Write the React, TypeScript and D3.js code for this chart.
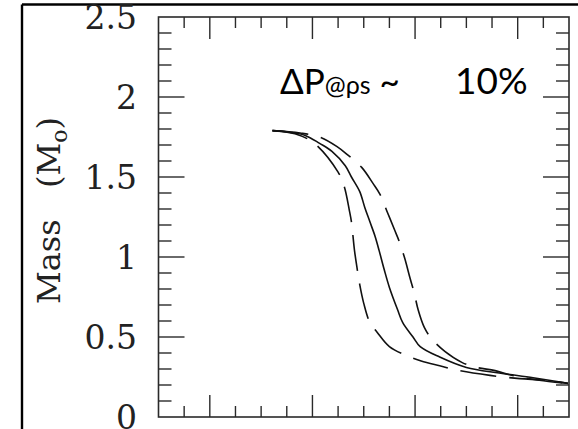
import React from "react";
import * as d3 from "d3";

// Enclosed mass profiles for three pressure perturbations
const leftX = [0.61, 0.83, 1.02, 1.25, 1.31, 1.36, 1.38, 1.41, 1.44, 1.46, 1.5, 1.56, 1.63, 1.75, 1.93, 2.06, 2.24, 2.43, 2.73, 3.02, 3.26, 3.49];
const leftY = [1.79, 1.77, 1.71, 1.53, 1.44, 1.29, 1.22, 1.04, 0.91, 0.83, 0.71, 0.59, 0.53, 0.44, 0.38, 0.35, 0.32, 0.29, 0.26, 0.24, 0.23, 0.21];

const midX = [0.61, 0.78, 0.93, 1.07, 1.19, 1.32, 1.38, 1.46, 1.51, 1.56, 1.61, 1.65, 1.7, 1.75, 1.83, 1.88, 1.98, 2.05, 2.24, 2.5, 2.82, 3.15, 3.49];
const midY = [1.79, 1.78, 1.76, 1.71, 1.66, 1.57, 1.5, 1.41, 1.31, 1.22, 1.13, 1.04, 0.92, 0.81, 0.67, 0.59, 0.5, 0.44, 0.375, 0.31, 0.275, 0.245, 0.21];

const rightX = [0.61, 0.88, 1.07, 1.24, 1.34, 1.48, 1.59, 1.66, 1.73, 1.8, 1.85, 1.9, 1.95, 1.99, 2.03, 2.09, 2.16, 2.29, 2.46, 2.6, 2.78, 2.95, 3.21, 3.49];
const rightY = [1.79, 1.775, 1.75, 1.69, 1.64, 1.56, 1.46, 1.39, 1.28, 1.17, 1.09, 0.99, 0.87, 0.78, 0.67, 0.56, 0.49, 0.41, 0.34, 0.31, 0.29, 0.26, 0.23, 0.21];

const yTickLabels = ["0", "0.5", "1", "1.5", "2", "2.5"];
const yTickValues = [0, 0.5, 1, 1.5, 2, 2.5];

const W = 578;
const H = 429;
const plot = { left: 158.5, right: 569, top: 17, bottom: 417 };

export default function App() {
  const x = d3.scaleLinear().domain([-0.5, 3.5]).range([plot.left, plot.right]);
  const y = d3.scaleLinear().domain([0, 2.5]).range([plot.bottom, plot.top]);

  const line = d3
    .line<[number, number]>()
    .x((d) => x(d[0]))
    .y((d) => y(d[1]))
    .curve(d3.curveCatmullRom.alpha(0.5));

  const series = [
    { xs: leftX, ys: leftY, dash: "36,13" },
    { xs: midX, ys: midY, dash: null },
    { xs: rightX, ys: rightY, dash: "36,13" },
  ];

  const xTicks = d3.range(-0.25, 3.5, 0.25).map((v) => +v.toFixed(2));
  const yTicks = d3.range(1, 25).map((i) => +(i * 0.1).toFixed(1));
  const isMajorX = (v: number) => Math.abs(v - Math.round(v)) < 1e-6;
  const isMajorY = (v: number) => Math.abs(v * 2 - Math.round(v * 2)) < 1e-6;
  const axisColor = "#2a2a2a";

  return (
    <svg
      width={W}
      height={H}
      style={{ position: "absolute", left: 0, top: 0, display: "block", background: "#fff" }}
    >
      <rect x={0} y={0} width={W} height={H} fill="#fff" />
      {/* outer frame */}
      <line x1={22} y1={4.5} x2={W + 2} y2={4.5} stroke="#000" strokeWidth={2.4} />
      <line x1={22} y1={4.5} x2={22} y2={H + 2} stroke="#000" strokeWidth={2.4} />

      {/* ticks */}
      <g stroke={axisColor} strokeWidth={1.4}>
        {xTicks.map((v) => {
          const len = isMajorX(v) ? 22 : 11;
          return (
            <g key={"x" + v}>
              <line x1={x(v)} x2={x(v)} y1={plot.bottom} y2={plot.bottom - len} />
              <line x1={x(v)} x2={x(v)} y1={plot.top} y2={plot.top + len} />
            </g>
          );
        })}
        {yTicks.map((v) => {
          const len = isMajorY(v) ? 26 : 13;
          return (
            <g key={"y" + v}>
              <line x1={plot.left} x2={plot.left + len} y1={y(v)} y2={y(v)} />
              <line x1={plot.right} x2={plot.right - len} y1={y(v)} y2={y(v)} />
            </g>
          );
        })}
      </g>
      <rect
        x={plot.left}
        y={plot.top}
        width={plot.right - plot.left}
        height={plot.bottom - plot.top}
        fill="none"
        stroke={axisColor}
        strokeWidth={1.6}
      />

      {/* y tick labels */}
      <g fontFamily="DejaVu Serif" fontSize={33} fill="#222" textAnchor="end">
        {yTickValues.map((v, i) => (
          <text key={v} x={137} y={y(v)} dy="0.36em">
            {yTickLabels[i]}
          </text>
        ))}
      </g>

      {/* y axis title */}
      <text
        transform={`translate(60, 304) rotate(-90)`}
        fontFamily="DejaVu Serif"
        fontSize={32}
        fill="#222"
      >
        Mass
        <tspan x={116}>(M</tspan>
        <tspan fontSize={22} dy={7}>o</tspan>
        <tspan dy={-7}>)</tspan>
      </text>

      {/* curves */}
      <g fill="none" stroke="#111" strokeWidth={1.6}>
        {series.map((s, i) => (
          <path
            key={i}
            d={line(s.xs.map((v, j) => [v, s.ys[j]] as [number, number])) || ""}
            strokeDasharray={s.dash || undefined}
          />
        ))}
      </g>

      {/* annotation */}
      <text x={280} y={94} fontFamily="Lato" fontSize={35} fill="#000">
        ΔP
        <tspan fontSize={25}>@ρs</tspan>
        <tspan> ~</tspan>
        <tspan x={455} fontSize={37}>10%</tspan>
      </text>
    </svg>
  );
}
